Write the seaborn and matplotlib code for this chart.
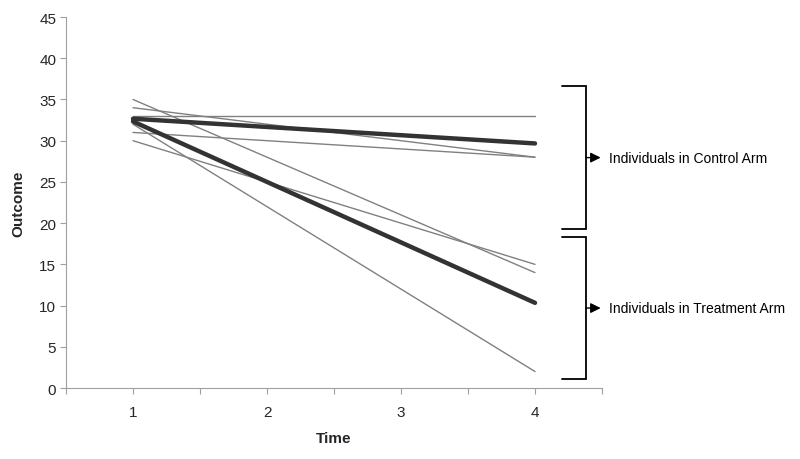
import matplotlib
matplotlib.use("Agg")
import matplotlib.pyplot as plt
import numpy as np
import pandas as pd
import seaborn as sns

# values (only time 1 and time 4 are plotted)
times = [1, 4]
control_start = [34, 33, 31]
control_end = [28, 33, 28]
treatment_start = [35, 32, 30]
treatment_end = [14, 2, 15]

x_ticks = [1, 2, 3, 4]
y_ticks = [0, 5, 10, 15, 20, 25, 30, 35, 40, 45]


def build_frame():
    rows = []
    for arm, starts, ends in (
        ("Control", control_start, control_end),
        ("Treatment", treatment_start, treatment_end),
    ):
        for i, (s, e) in enumerate(zip(starts, ends)):
            rows.append({"arm": arm, "subject": f"{arm}{i}", "time": times[0], "outcome": s})
            rows.append({"arm": arm, "subject": f"{arm}{i}", "time": times[1], "outcome": e})
    return pd.DataFrame(rows)


def draw_bracket(ax, y_top, y_bottom, label):
    x_stub, x_bar = 4.2, 4.38
    ax.plot([x_stub, x_bar, x_bar, x_stub], [y_top, y_top, y_bottom, y_bottom],
            color="black", lw=1.3, clip_on=False, solid_joinstyle="miter")
    y_mid = (y_top + y_bottom) / 2
    ax.annotate("", xy=(4.49, y_mid), xytext=(x_bar, y_mid),
                arrowprops=dict(arrowstyle="-|>", color="black", lw=1.0,
                                mutation_scale=15, shrinkA=0, shrinkB=0),
                annotation_clip=False)
    ax.text(4.55, y_mid, label, ha="left", va="center", fontsize=10,
            color="black", clip_on=False)


def main():
    sns.set_theme(style="white")
    plt.rcParams["font.family"] = ["Liberation Sans", "DejaVu Sans"]

    df = build_frame()
    means = df.groupby(["arm", "time"], as_index=False)["outcome"].mean()

    fig = plt.figure(figsize=(8, 4.6), dpi=100)
    ax = fig.add_axes([0.0825, 0.1543, 0.67, 0.8065])

    sns.lineplot(data=df, x="time", y="outcome", units="subject", estimator=None,
                 color="#808080", lw=1.0, ax=ax, legend=False)
    sns.lineplot(data=means, x="time", y="outcome", units="arm", estimator=None,
                 color="#333333", lw=3.2, ax=ax, legend=False,
                 solid_capstyle="round")

    ax.set_xlim(0.5, 4.5)
    ax.set_ylim(0, 45)
    ax.set_xticks(x_ticks)
    ax.set_xticks(np.arange(0.5, 4.6, 1.0), minor=True)
    ax.set_yticks(y_ticks)
    ax.tick_params(axis="x", which="major", direction="out", length=4, width=0.8,
                   color="#a0a0a0", labelsize=11, pad=8)
    ax.tick_params(axis="x", which="minor", direction="out", length=4, width=0.8,
                   color="#a0a0a0")
    ax.tick_params(axis="y", direction="out", length=4, width=0.8,
                   color="#a0a0a0", labelsize=11, pad=3)
    ax.tick_params(left=True, bottom=True, which="both")

    for side in ("top", "right"):
        ax.spines[side].set_visible(False)
    for side in ("left", "bottom"):
        ax.spines[side].set_color("#a0a0a0")
        ax.spines[side].set_linewidth(0.8)

    ax.set_xlabel("Time", fontsize=11, fontweight="bold", labelpad=9)
    ax.set_ylabel("Outcome", fontsize=11, fontweight="bold", labelpad=10)

    draw_bracket(ax, 36.6, 19.3, "Individuals in Control Arm")
    draw_bracket(ax, 18.3, 1.1, "Individuals in Treatment Arm")

    fig.savefig("out.png", dpi=100)
    plt.close(fig)


if __name__ == "__main__":
    main()
